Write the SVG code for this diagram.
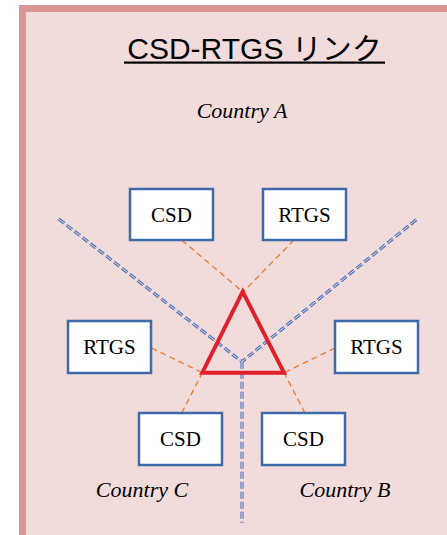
<svg xmlns="http://www.w3.org/2000/svg" width="447" height="535" viewBox="0 0 447 535">
<style>
.box{fill:#ffffff;stroke:#3f6aa8;stroke-width:2.5}
.lbl{font-family:"Liberation Serif",serif;font-size:21px;fill:#000;text-anchor:middle}
.cty{font-family:"Liberation Serif",serif;font-style:italic;font-size:22px;fill:#000;text-anchor:middle}
.od{stroke:#ed7d31;stroke-width:1.3;stroke-dasharray:6,4;fill:none}
.bo{stroke:#4e73b8;stroke-width:3.2;stroke-dasharray:7,3;fill:none}
.bi{stroke:#f2dcdb;stroke-width:1;stroke-dasharray:7,3;fill:none}
</style>
<rect x="0" y="0" width="447" height="535" fill="#ffffff"/>
<rect x="22.5" y="8.5" width="440" height="540" fill="#f2dcdb" stroke="#d99694" stroke-width="7"/>
<text x="254.5" y="59" font-family="'Liberation Sans','Noto Sans CJK JP',sans-serif" font-size="30" text-anchor="middle" fill="#000">CSD-RTGS リンク</text>
<rect x="124" y="61.5" width="261" height="2.2" fill="#000"/>
<text class="cty" x="242" y="118">Country A</text>
<text class="cty" x="142" y="497">Country C</text>
<text class="cty" x="345" y="497">Country B</text>
<g id="connectors">
<path class="bo" d="M58.7,219 L242,361.7 L416.7,219.3 M242,361.7 L242,523"/>
<path class="bi" d="M58.7,219 L242,361.7 L416.7,219.3 M242,361.7 L242,523"/>
<path class="od" d="M181.7,240 L243,292 M294,240 L243,292 M151.5,348 L202.3,372.7 M335,348 L284,372.7 M181.7,413 L202.3,372.7 M305,413 L284,372.7"/>
</g>
<g id="triangle">
<polygon points="242.7,291.7 202.3,372.7 284,372.7" fill="none" stroke="#e0202a" stroke-width="4" stroke-linejoin="miter"/>
</g>
<g id="csd-a"><rect class="box" x="130" y="189" width="83" height="51"/><text class="lbl" x="171.5" y="222">CSD</text></g>
<g id="rtgs-a"><rect class="box" x="263" y="189" width="83" height="51"/><text class="lbl" x="304.5" y="222">RTGS</text></g>
<g id="rtgs-c"><rect class="box" x="68" y="321" width="83" height="52"/><text class="lbl" x="109.5" y="354">RTGS</text></g>
<g id="rtgs-b"><rect class="box" x="335" y="321" width="83" height="52"/><text class="lbl" x="376.5" y="354">RTGS</text></g>
<g id="csd-c"><rect class="box" x="139" y="413" width="83" height="52"/><text class="lbl" x="180.5" y="446">CSD</text></g>
<g id="csd-b"><rect class="box" x="262" y="413" width="83" height="52"/><text class="lbl" x="303.5" y="446">CSD</text></g>
</svg>
